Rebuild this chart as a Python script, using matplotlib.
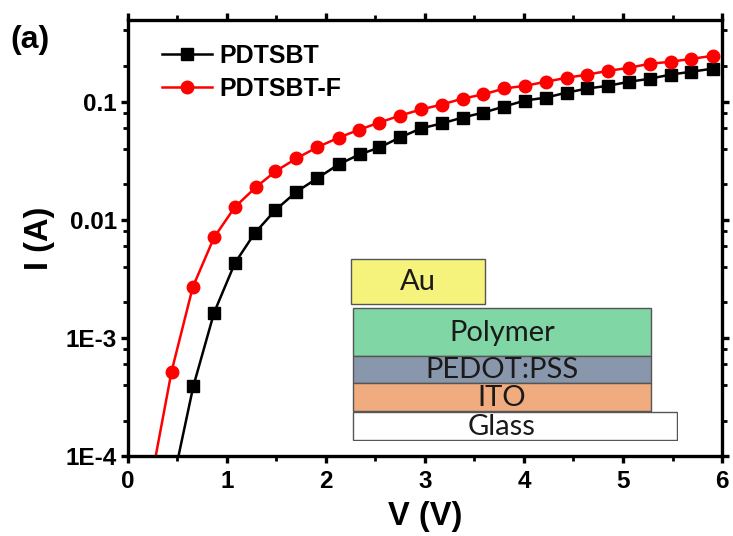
import numpy as np
import matplotlib.pyplot as plt
from matplotlib.patches import Rectangle
from matplotlib.ticker import FixedLocator, FixedFormatter

plt.rcParams['font.family'] = ['Liberation Sans', 'DejaVu Sans']
plt.rcParams['font.weight'] = 'bold'

# marker points (V, A)
v_black = [0.66, 0.87, 1.08, 1.28, 1.49, 1.70, 1.91, 2.13, 2.34, 2.54, 2.75, 2.96,
           3.17, 3.38, 3.59, 3.80, 4.01, 4.22, 4.43, 4.64, 4.85, 5.06, 5.27, 5.48, 5.69, 5.91]
i_black = [3.9e-4, 1.64e-3, 4.3e-3, 7.7e-3, 0.0121, 0.0172, 0.0224, 0.0295, 0.0357,
           0.0409, 0.0498, 0.0593, 0.0653, 0.0733, 0.0807, 0.0908, 0.102, 0.108, 0.119,
           0.129, 0.136, 0.147, 0.156, 0.169, 0.179, 0.190]
v_red = [0.44, 0.655, 0.87, 1.08, 1.29, 1.49, 1.70, 1.91, 2.13, 2.33, 2.54, 2.75, 2.96,
         3.17, 3.38, 3.59, 3.80, 4.01, 4.22, 4.43, 4.64, 4.85, 5.06, 5.27, 5.48, 5.69, 5.91]
i_red = [5.2e-4, 2.7e-3, 7.1e-3, 0.0128, 0.0188, 0.0257, 0.033, 0.041, 0.0496, 0.0576,
         0.0665, 0.0762, 0.0857, 0.0944, 0.106, 0.115, 0.129, 0.136, 0.147, 0.159, 0.169,
         0.182, 0.193, 0.209, 0.217, 0.230, 0.244]
# where the curves leave the bottom axis
v0_black, v0_red = 0.51, 0.28

layers = [
    # label, x0, y0, x1, y1 (pixel frame of the inset), colour
    ('Au', 350, 259, 484, 304, '#f6f37c'),
    ('Polymer', 352, 308, 651, 356, '#80d6a5'),
    ('PEDOT:PSS', 352, 356, 651, 383, '#8897ab'),
    ('ITO', 352, 383, 651, 411, '#f0ab7e'),
    ('Glass', 352, 412, 677, 440, '#ffffff'),
]

fig = plt.figure(figsize=(7.33, 5.36), dpi=100)
ax = fig.add_axes([0.1746, 0.149, 0.8104, 0.8137])

ax.plot([v0_black] + v_black, [1e-4] + i_black, color='black', lw=1.8,
        marker='s', ms=8, markevery=list(range(1, len(v_black) + 1)), label='PDTSBT')
ax.plot([v0_red] + v_red, [1e-4] + i_red, color='red', lw=1.8,
        marker='o', ms=9, markevery=list(range(1, len(v_red) + 1)), label='PDTSBT-F')

ax.set_yscale('log')
ax.set_xlim(0, 6)
ax.set_ylim(1e-4, 0.49)
ax.set_xticks([0, 1, 2, 3, 4, 5, 6])
ax.set_xticks(np.arange(0.5, 6, 1), minor=True)
ax.yaxis.set_major_locator(FixedLocator([1e-4, 1e-3, 1e-2, 1e-1]))
ax.yaxis.set_major_formatter(FixedFormatter(['1E-4', '1E-3', '0.01', '0.1']))
minors = [m * 10.0 ** e for e in range(-4, 0) for m in (2, 4, 6, 8)]
ax.yaxis.set_minor_locator(FixedLocator(minors))
ax.yaxis.set_minor_formatter(FixedFormatter([''] * len(minors)))

for s in ax.spines.values():
    s.set_linewidth(2.4)
ax.tick_params(which='major', direction='out', length=5, width=2.4, labelsize=17.5,
               top=True, right=True, pad=3)
ax.tick_params(axis='x', which='major', pad=5)
ax.tick_params(which='minor', direction='out', length=3.5, width=2, top=True, right=True)
for lbl in ax.get_xticklabels() + ax.get_yticklabels():
    lbl.set_fontweight('bold')

ax.set_xlabel('V (V)', fontsize=23.5, fontweight='bold', labelpad=6)
ax.set_ylabel('I (A)', fontsize=23.5, fontweight='bold', labelpad=8)

leg = ax.legend(loc='upper left', frameon=False, fontsize=18, handlelength=2.0,
                borderaxespad=0.3, labelspacing=0.35, handletextpad=0.3,
                bbox_to_anchor=(0.028, 0.985))
for t in leg.get_texts():
    t.set_fontweight('bold')

fig.text(0.014, 0.91, '(a)', fontsize=23, fontweight='bold')

# device stack inset, drawn in pixel coordinates of the figure
ins = fig.add_axes([350 / 733, 1 - 441 / 536, 328 / 733, 183 / 536])
ins.set_xlim(349, 678)
ins.set_ylim(441, 258)
ins.axis('off')
for name, x0, y0, x1, y1, col in layers:
    ins.add_patch(Rectangle((x0, y0), x1 - x0, y1 - y0, facecolor=col,
                            edgecolor='#555555', lw=1))
    cx = (x0 + x1) / 2 if name != 'Glass' else (352 + 651) / 2
    ins.text(cx, (y0 + y1) / 2 + 1, name, ha='center', va='center', fontsize=21,
             fontweight='normal', family=['Lato', 'DejaVu Sans'], color='#1a1a1a')

fig.savefig('out.png', dpi=100)
